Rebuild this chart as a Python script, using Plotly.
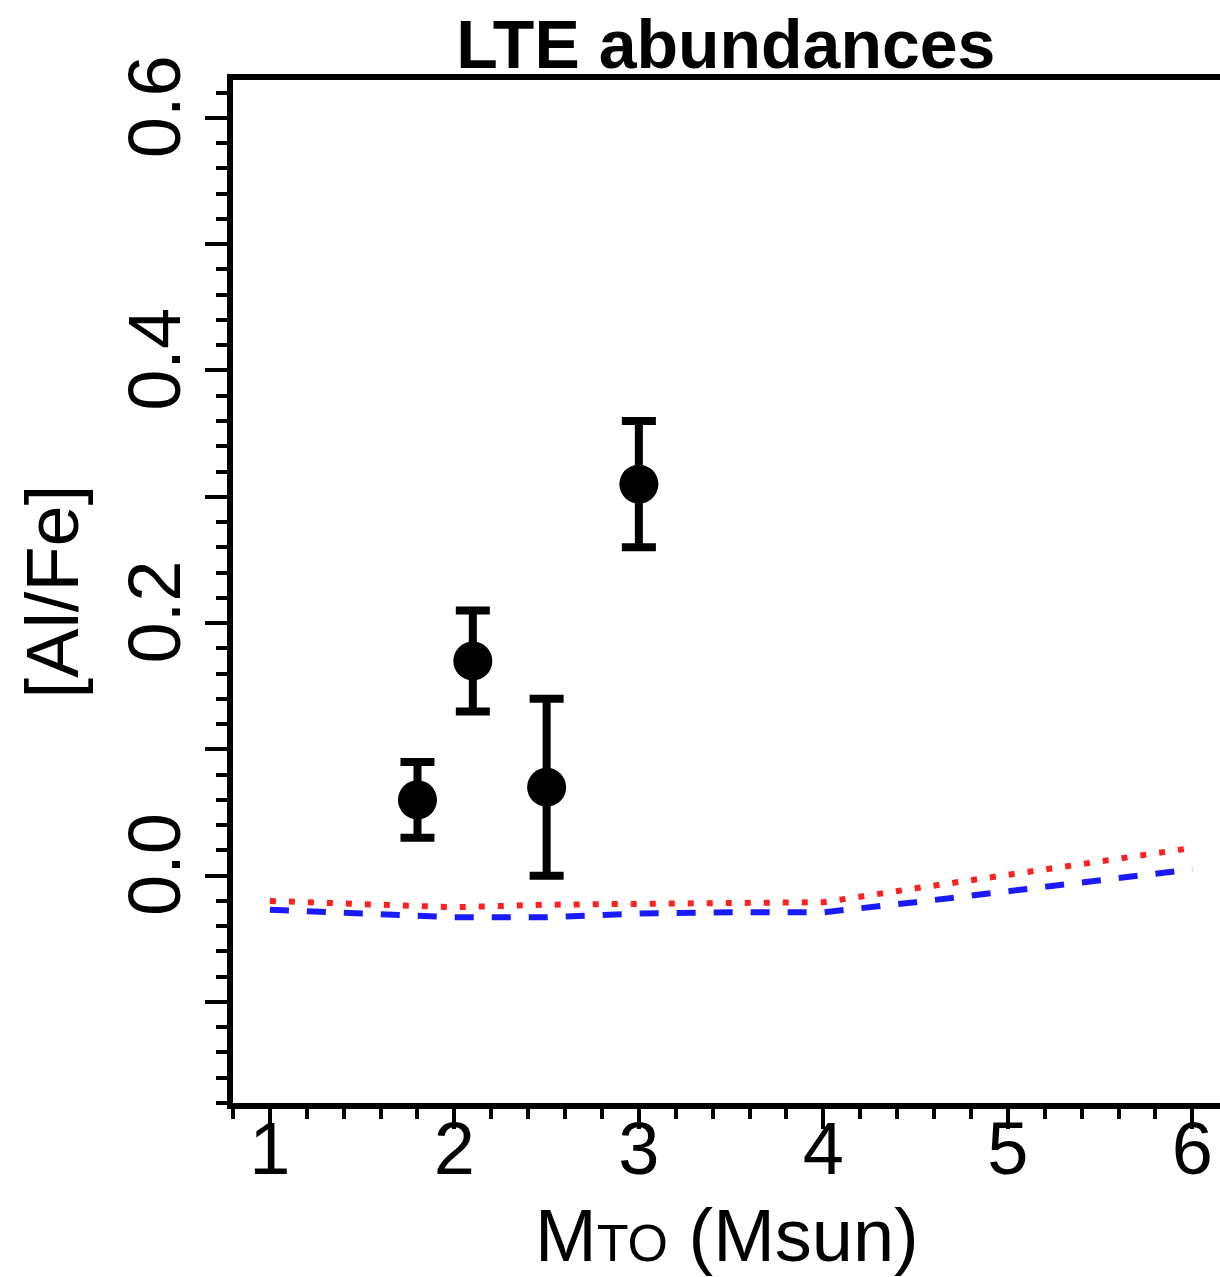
import plotly.graph_objects as go

# Observed data points
mass_obs = [1.8, 2.1, 2.5, 3.0]
alfe_obs = [0.06, 0.17, 0.07, 0.31]
alfe_err = [0.03, 0.04, 0.07, 0.05]

# Model curves
mass_model = [1.0, 1.5, 2.0, 2.5, 3.0, 3.5, 4.0, 4.5, 5.0, 5.5, 6.0]
alfe_red = [-0.020, -0.023, -0.025, -0.023, -0.022, -0.022, -0.021, -0.010, 0.001, 0.012, 0.022]
alfe_blue = [-0.027, -0.030, -0.033, -0.033, -0.030, -0.029, -0.029, -0.021, -0.012, -0.004, 0.005]

ytick_vals = [-0.1, 0.0, 0.1, 0.2, 0.3, 0.4, 0.5, 0.6]
ytick_text = ["", "0.0", "", "0.2", "", "0.4", "", "0.6"]
xtick_vals = [1, 2, 3, 4, 5, 6]
xtick_text = ["1", "2", "3", "4", "5", "6"]

FONT = "Liberation Sans, Arial, Helvetica, sans-serif"
W, H = 1220, 1277
L, R, T, B = 233, 0, 80, 174
PH = H - T - B

fig = go.Figure()
fig.add_trace(go.Scatter(x=mass_model, y=alfe_red, mode="lines",
                         line=dict(color="#ff2020", width=6, dash="6px,13px"),
                         showlegend=False))
fig.add_trace(go.Scatter(x=mass_model, y=alfe_blue, mode="lines",
                         line=dict(color="#1a1aff", width=6, dash="19px,18px"),
                         showlegend=False))
fig.add_trace(go.Scatter(x=mass_obs, y=alfe_obs, mode="markers",
                         marker=dict(color="black", size=39, symbol="circle"),
                         error_y=dict(type="data", array=alfe_err, visible=True,
                                      color="black", thickness=8, width=17),
                         showlegend=False))

fig.update_layout(
    width=W, height=H,
    margin=dict(l=L, r=R, t=T, b=B, autoexpand=False),
    paper_bgcolor="white", plot_bgcolor="white",
    font=dict(family=FONT, color="black", size=74),
    title=dict(text="<b>LTE abundances</b>", x=0.595, xanchor="center",
               y=1 - 68 / H, yanchor="bottom",
               font=dict(family=FONT, size=68, color="black")),
    annotations=[
        dict(text="[Al/Fe]", xref="paper", yref="paper",
             x=-(L - 52) / (W - L - R), y=0.5, xanchor="center", yanchor="middle",
             textangle=-90, showarrow=False, font=dict(size=74)),
        dict(text='M<span style="font-size:52px">TO</span> (Msun)', xref="paper", yref="paper",
             x=0.5, y=-(1236 - (T + PH)) / PH, xanchor="center", yanchor="middle",
             showarrow=False, font=dict(size=74)),
    ],
)
fig.update_xaxes(
    range=[0.8, 6.15], showgrid=False, zeroline=False, automargin=False,
    showline=True, linewidth=6, linecolor="black", mirror=True,
    tickmode="array", tickvals=xtick_vals, ticktext=xtick_text,
    ticks="outside", ticklen=20, tickwidth=4, tickcolor="black",
    minor=dict(tickmode="linear", tick0=0, dtick=0.2, ticks="outside",
               ticklen=10, tickwidth=4, tickcolor="black", showgrid=False),
    tickfont=dict(size=74), ticklabelstandoff=-44,
)
fig.update_yaxes(
    range=[-0.18, 0.63], showgrid=False, zeroline=False, automargin=False,
    showline=True, linewidth=6, linecolor="black", mirror=False,
    tickmode="array", tickvals=ytick_vals, ticktext=ytick_text,
    ticks="outside", ticklen=22, tickwidth=4, tickcolor="black",
    minor=dict(tickmode="linear", tick0=0, dtick=0.02, ticks="outside",
               ticklen=11, tickwidth=4, tickcolor="black", showgrid=False),
    tickangle=-90, tickfont=dict(size=74), ticklabelstandoff=-5,
)

fig.write_html("out.html")
